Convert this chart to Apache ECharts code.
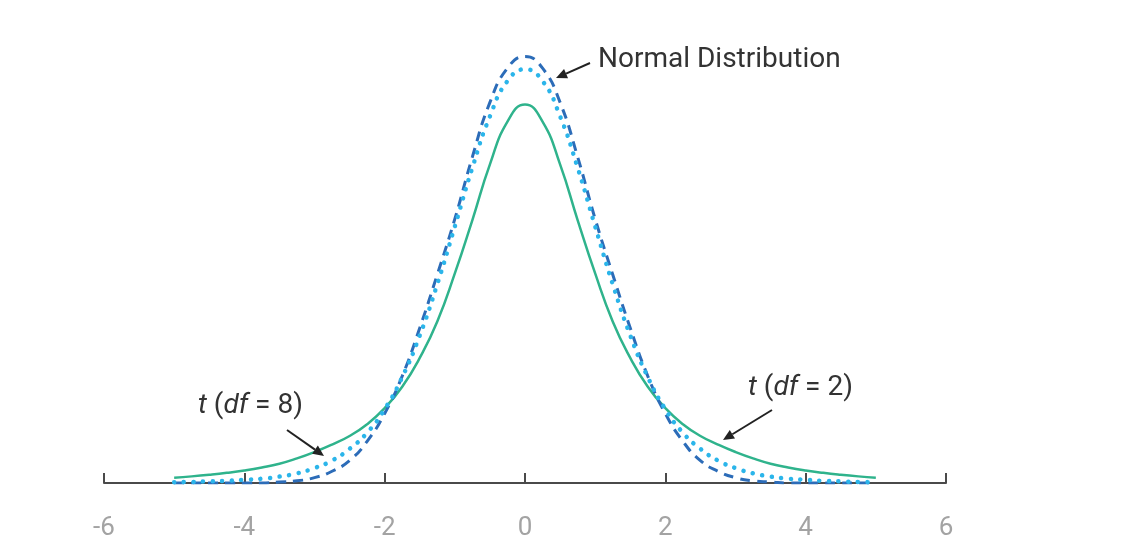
<!DOCTYPE html>
<html>
<head>
<meta charset="utf-8">
<script src="https://cdn.jsdelivr.net/npm/echarts@6/dist/echarts.min.js"></script>
<style>
  html, body { margin: 0; padding: 0; background: #ffffff; }
  #chart { width: 1148px; height: 556px; }
</style>
</head>
<body>
<div id="chart"></div>
<script>
// x positions (z scores)
const xValues = [-5, -4.75, -4.5, -4.25, -4, -3.75, -3.5, -3.25, -3, -2.75, -2.5, -2.25, -2, -1.75, -1.5, -1.25, -1, -0.75, -0.5, -0.25,
  0, 0.25, 0.5, 0.75, 1, 1.25, 1.5, 1.75, 2, 2.25, 2.5, 2.75, 3, 3.25, 3.5, 3.75, 4, 4.25, 4.5, 4.75, 5];

// Normal distribution (dashed)
const normalValues = [0, 0, 0, 0, 0, 0, 0.001, 0.002, 0.005, 0.011, 0.021, 0.039, 0.065, 0.100, 0.145, 0.195, 0.247, 0.305, 0.356, 0.388,
  0.399, 0.388, 0.356, 0.305, 0.247, 0.195, 0.145, 0.100, 0.065, 0.039, 0.021, 0.011, 0.005, 0.002, 0.001, 0, 0, 0, 0, 0, 0];

// t distribution, df = 8 (dotted)
const t8Values = [0.0007, 0.001, 0.0015, 0.002, 0.003, 0.004, 0.006, 0.009, 0.014, 0.021, 0.032, 0.047, 0.069, 0.099, 0.138, 0.186, 0.240, 0.295, 0.343, 0.376,
  0.387, 0.376, 0.343, 0.295, 0.240, 0.186, 0.138, 0.099, 0.069, 0.047, 0.032, 0.021, 0.014, 0.009, 0.006, 0.004, 0.003, 0.002, 0.0015, 0.001, 0.0007];

// t distribution, df = 2 (solid)
const t2Values = [0.005, 0.0062, 0.0077, 0.0095, 0.0117, 0.0145, 0.018, 0.023, 0.029, 0.036, 0.044, 0.055, 0.070, 0.090, 0.117, 0.151, 0.196, 0.246, 0.298, 0.338,
  0.354, 0.338, 0.298, 0.246, 0.196, 0.151, 0.117, 0.090, 0.070, 0.055, 0.044, 0.036, 0.029, 0.023, 0.018, 0.0145, 0.0117, 0.0095, 0.0077, 0.0062, 0.005];

const xTicks = [-6, -4, -2, 0, 2, 4, 6];

const pairs = vals => xValues.map((x, i) => [x, vals[i]]);

const chart = echarts.init(document.getElementById('chart'), null, { renderer: 'canvas' });

function arrow(x1, y1, x2, y2) {
  const ang = Math.atan2(y2 - y1, x2 - x1);
  const L = 11, W = 5;
  const bx = x2 - L * Math.cos(ang), by = y2 - L * Math.sin(ang);
  const px = -Math.sin(ang) * W, py = Math.cos(ang) * W;
  return [
    { type: 'line', shape: { x1: x1, y1: y1, x2: bx, y2: by }, style: { stroke: '#222', lineWidth: 2 }, z: 100 },
    { type: 'polygon', shape: { points: [[x2, y2], [bx + px, by + py], [bx - px, by - py]] }, style: { fill: '#222' }, z: 100 }
  ];
}

const font = 'Roboto, "Noto Sans", sans-serif';
const lineBase = { type: 'line', smooth: true, showSymbol: false, silent: true };

const option = {
  backgroundColor: '#ffffff',
  animation: false,
  grid: { left: 104, right: 202, top: 34, bottom: 73 },
  xAxis: {
    type: 'value',
    min: -6, max: 6, interval: 2,
    axisLine: { show: true, lineStyle: { color: '#4a4a4a', width: 2 } },
    axisTick: { show: true, inside: true, length: 10, lineStyle: { color: '#4a4a4a', width: 2 } },
    axisLabel: { color: '#a3a3a3', fontSize: 26, margin: 32, fontFamily: font,
      formatter: v => xTicks.includes(v) ? String(v) : '' },
    splitLine: { show: false }
  },
  yAxis: {
    type: 'value', min: 0, max: 0.42, show: false,
    splitLine: { show: false }
  },
  series: [
    Object.assign({}, lineBase, {
      name: 't (df = 2)', data: pairs(t2Values),
      lineStyle: { color: '#2fb38c', width: 2.5 }, z: 2
    }),
    Object.assign({}, lineBase, {
      name: 'Normal Distribution', data: pairs(normalValues),
      lineStyle: { color: '#2c6cb8', width: 3, type: [10, 7] }, z: 3
    }),
    Object.assign({}, lineBase, {
      name: 't (df = 8)', data: pairs(t8Values),
      lineStyle: { color: '#2bb5ea', width: 4.5, type: [0.1, 9.5], cap: 'round' }, z: 4
    })
  ],
  graphic: [
    { type: 'text', left: 598, top: 46, z: 100,
      style: { text: 'Normal Distribution', fill: '#333', font: '28px ' + font } },
    { type: 'text', left: 198, top: 392, z: 100,
      style: { text: '{i|t} ({i|df} = 8)', fill: '#333', font: '28px ' + font,
        rich: { i: { fontStyle: 'italic', fontSize: 28, fill: '#333', fontFamily: font } } } },
    { type: 'text', left: 748, top: 374, z: 100,
      style: { text: '{i|t} ({i|df} = 2)', fill: '#333', font: '28px ' + font,
        rich: { i: { fontStyle: 'italic', fontSize: 28, fill: '#333', fontFamily: font } } } },
    ...arrow(590, 63, 556, 78),
    ...arrow(287, 430, 324, 456),
    ...arrow(772, 410, 723, 440)
  ]
};

chart.setOption(option);
</script>
</body>
</html>
